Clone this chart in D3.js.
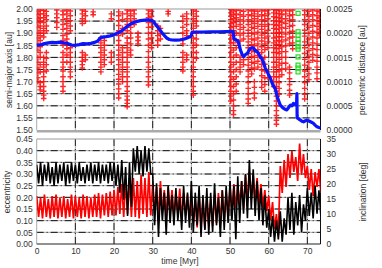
<!DOCTYPE html>
<html>
<head>
<meta charset="utf-8">
<script src="https://cdn.jsdelivr.net/npm/d3@7"></script>
<style>
  body { margin: 0; background: #fff; }
  svg { display: block; }
  text { font-family: "Liberation Sans", Arial, sans-serif; fill: #333; }
</style>
</head>
<body>
<svg width="382" height="268"></svg>
<script>
// ---- data ----
var timeTicks = [0, 10, 20, 30, 40, 50, 60, 70];
var semiTicks = [1.50, 1.55, 1.60, 1.65, 1.70, 1.75, 1.80, 1.85, 1.90, 1.95, 2.00];
var periTicks = [0, 0.0005, 0.0010, 0.0015, 0.0020, 0.0025];
var eccTicks = [0, 0.05, 0.10, 0.15, 0.20, 0.25, 0.30, 0.35, 0.40, 0.45];
var incTicks = [0, 5, 10, 15, 20, 25, 30, 35];

// semi-major axis [au] vs time [Myr]
var semiT = [0, 1, 2, 3, 4, 5, 6, 7, 8, 9, 10, 11, 12, 13, 14, 15, 15.8, 16.4, 17, 18, 19, 20,
  20.8, 21.6, 22.4, 23.3, 24.2, 25, 26, 26.8, 28, 28.8, 29.5, 30.2, 30.8, 31.2, 31.8, 32.5,
  33.1, 33.7, 34.3, 35, 36, 37, 38, 38.9, 39.7, 40.0, 40.2, 41, 43, 45, 47, 49, 50.8, 51.0,
  51.5, 52.0, 52.4, 52.7, 53.2, 53.5, 54.0, 54.5, 55.2, 55.8, 56.2, 56.6, 57.0, 57.4, 57.8,
  58.2, 58.6, 59.1, 59.5, 60.0, 60.5, 60.9, 61.3, 61.7, 62.2, 62.6, 63.0, 63.4, 63.8, 64.2,
  64.7, 65.1, 65.6, 66.0, 66.4, 66.8, 67.2, 67.3, 67.35, 67.4, 67.8, 68.2, 68.6, 69.0, 69.5,
  70.0, 70.4, 70.8, 71.2, 71.6, 72.0, 72.5, 73.0, 73.4];
var semiA = [1.851, 1.852, 1.857, 1.860, 1.862, 1.861, 1.863, 1.860, 1.858, 1.851, 1.850, 1.853,
  1.857, 1.856, 1.858, 1.862, 1.868, 1.880, 1.884, 1.886, 1.889, 1.893, 1.900, 1.906, 1.915,
  1.927, 1.937, 1.943, 1.949, 1.952, 1.954, 1.955, 1.953, 1.948, 1.935, 1.927, 1.915, 1.900,
  1.889, 1.879, 1.874, 1.872, 1.871, 1.872, 1.875, 1.880, 1.886, 1.890, 1.904, 1.905, 1.905,
  1.906, 1.906, 1.907, 1.908, 1.878, 1.872, 1.870, 1.850, 1.830, 1.810, 1.803, 1.812, 1.817,
  1.838, 1.840, 1.836, 1.826, 1.824, 1.815, 1.803, 1.795, 1.782, 1.756, 1.745, 1.727, 1.712,
  1.693, 1.680, 1.672, 1.638, 1.620, 1.603, 1.596, 1.590, 1.586, 1.583, 1.592, 1.603, 1.600,
  1.610, 1.607, 1.603, 1.650, 1.560, 1.550, 1.545, 1.541, 1.536, 1.534, 1.538, 1.541, 1.537,
  1.534, 1.531, 1.527, 1.520, 1.513, 1.510, 1.508];

// pericentric distance [au]: columns of crosses, [time, [distances]]
var periCols = [
  [0.3, [0.00245, 0.00238, 0.00230, 0.00222, 0.00212, 0.00200, 0.00190, 0.00178, 0.00165, 0.00150, 0.00140, 0.00128, 0.00118, 0.00108, 0.00100]],
  [0.9, [0.00248, 0.00240, 0.00232, 0.00225, 0.00215, 0.00205, 0.00195, 0.00185, 0.00172, 0.00160, 0.00150, 0.00135, 0.00120, 0.00098, 0.00090, 0.00083]],
  [1.8, [0.00247, 0.00240, 0.00232, 0.00222, 0.00210, 0.00200, 0.00192, 0.00150, 0.00140, 0.00130, 0.00120, 0.00110, 0.00100, 0.00090, 0.00080, 0.00072, 0.00065]],
  [2.5, [0.00245, 0.00236, 0.00228, 0.00215, 0.00205, 0.00160, 0.00148, 0.00135, 0.00122]],
  [5.2, [0.00248, 0.00240, 0.00232, 0.00222, 0.00212]],
  [6.8, [0.00246, 0.00238, 0.00228, 0.00218, 0.00208, 0.00195, 0.00185, 0.00175, 0.00160, 0.00150, 0.00140, 0.00130, 0.00122, 0.00110, 0.00100, 0.00090, 0.00080]],
  [7.8, [0.00248, 0.00240, 0.00230, 0.00220, 0.00210, 0.00198, 0.00188, 0.00178, 0.00168, 0.00155, 0.00140]],
  [8.7, [0.00246, 0.00236, 0.00226, 0.00215, 0.00205, 0.00170, 0.00160, 0.00150, 0.00140, 0.00130, 0.00120, 0.00110]],
  [11.8, [0.00248, 0.00240, 0.00230, 0.00220, 0.00160, 0.00150, 0.00142, 0.00135, 0.00128]],
  [12.6, [0.00245, 0.00236, 0.00225, 0.00155, 0.00145]],
  [14.6, [0.00244, 0.00238]],
  [16.6, [0.00190, 0.00180, 0.00170, 0.00160, 0.00150, 0.00140, 0.00130, 0.00120]],
  [17.5, [0.00185, 0.00175, 0.00165, 0.00155, 0.00145, 0.00135]],
  [19.3, [0.00240, 0.00230, 0.00160, 0.00150, 0.00140]],
  [21.2, [0.00244, 0.00236, 0.00226, 0.00216, 0.00205, 0.00195, 0.00185, 0.00175, 0.00165, 0.00155, 0.00145, 0.00135, 0.00125, 0.00115, 0.00105, 0.00095, 0.00085, 0.00075, 0.00066]],
  [22.2, [0.00240, 0.00228, 0.00210, 0.00198, 0.00170, 0.00160, 0.00150, 0.00140, 0.00130, 0.00120, 0.00110, 0.00100]],
  [23.4, [0.00248, 0.00240, 0.00230, 0.00218, 0.00205, 0.00190, 0.00180, 0.00170, 0.00160, 0.00150, 0.00140, 0.00130, 0.00120, 0.00110, 0.00100, 0.00090, 0.00080, 0.00070, 0.00062, 0.00055, 0.00048]],
  [24.3, [0.00246, 0.00236, 0.00225, 0.00212, 0.00200, 0.00190, 0.00178, 0.00165, 0.00155]],
  [25.2, [0.00248, 0.00240, 0.00230, 0.00218]],
  [26.2, [0.00200, 0.00192, 0.00185, 0.00178]],
  [28.9, [0.00248, 0.00240, 0.00232, 0.00222, 0.00212, 0.00200, 0.00188, 0.00175, 0.00162, 0.00150, 0.00140, 0.00130, 0.00120, 0.00110, 0.00100, 0.00093]],
  [29.7, [0.00245, 0.00235, 0.00225, 0.00213, 0.00200, 0.00190, 0.00180, 0.00170]],
  [31.3, [0.00215, 0.00205, 0.00195, 0.00185, 0.00175]],
  [32.0, [0.00210, 0.00198, 0.00188]],
  [34.0, [0.00245, 0.00240]],
  [37.8, [0.00235, 0.00225, 0.00212, 0.00200, 0.00188, 0.00178, 0.00160, 0.00150, 0.00140, 0.00130, 0.00122]],
  [38.8, [0.00240, 0.00230, 0.00218, 0.00205, 0.00195, 0.00155, 0.00145]],
  [40.5, [0.00248, 0.00240, 0.00230, 0.00220, 0.00210, 0.00190, 0.00180, 0.00170, 0.00160, 0.00150, 0.00140, 0.00130, 0.00120, 0.00110, 0.00100, 0.00090, 0.00080, 0.00072]],
  [41.3, [0.00245, 0.00235, 0.00225, 0.00215, 0.00200, 0.00188, 0.00175, 0.00160, 0.00148]],
  [50.2, [0.00249, 0.00242, 0.00235, 0.00228, 0.00220, 0.00212, 0.00204, 0.00196, 0.00188, 0.00180, 0.00170, 0.00160, 0.00150, 0.00140, 0.00130, 0.00120, 0.00110, 0.00100, 0.00090, 0.00080, 0.00070, 0.00060]],
  [50.9, [0.00246, 0.00238, 0.00230, 0.00222, 0.00214, 0.00205, 0.00195, 0.00180, 0.00165, 0.00150, 0.00135, 0.00120, 0.00105, 0.00090, 0.00075, 0.00062, 0.00050, 0.00040, 0.00032]],
  [51.6, [0.00248, 0.00240, 0.00232, 0.00224, 0.00214, 0.00200, 0.00185, 0.00170, 0.00155, 0.00140, 0.00125, 0.00110, 0.00095, 0.00080]],
  [52.6, [0.00247, 0.00238, 0.00228, 0.00218, 0.00208, 0.00196, 0.00184, 0.00150, 0.00140, 0.00130, 0.00120]],
  [53.5, [0.00245, 0.00235, 0.00225, 0.00212, 0.00200, 0.00188, 0.00145, 0.00135]],
  [54.7, [0.00248, 0.00238, 0.00228, 0.00218, 0.00206, 0.00194, 0.00182, 0.00170, 0.00158, 0.00146, 0.00134, 0.00122, 0.00110, 0.00098, 0.00086, 0.00075, 0.00064, 0.00055]],
  [55.6, [0.00246, 0.00236, 0.00224, 0.00212, 0.00200, 0.00188, 0.00176, 0.00164, 0.00152, 0.00140, 0.00128, 0.00116]],
  [56.3, [0.00248, 0.00240, 0.00230, 0.00220, 0.00210, 0.00198, 0.00186, 0.00174, 0.00162, 0.00150, 0.00138, 0.00126, 0.00100, 0.00088, 0.00076, 0.00066]],
  [57.2, [0.00245, 0.00235, 0.00225, 0.00214, 0.00202, 0.00190, 0.00178, 0.00166, 0.00154, 0.00142, 0.00130]],
  [58.2, [0.00248, 0.00238, 0.00228, 0.00218, 0.00208, 0.00196, 0.00184, 0.00172, 0.00160, 0.00148, 0.00136, 0.00124, 0.00112, 0.00100, 0.00088]],
  [59.0, [0.00246, 0.00236, 0.00226, 0.00214, 0.00202, 0.00190, 0.00178, 0.00166, 0.00150, 0.00136, 0.00122, 0.00108, 0.00094, 0.00080]],
  [59.8, [0.00248, 0.00240, 0.00230, 0.00218, 0.00206, 0.00194, 0.00182, 0.00170, 0.00120, 0.00108]],
  [61.3, [0.00249, 0.00242, 0.00234, 0.00226, 0.00218, 0.00210, 0.00200, 0.00190, 0.00180, 0.00170, 0.00160, 0.00150, 0.00140, 0.00130, 0.00120, 0.00110, 0.00100, 0.00090]],
  [62.0, [0.00247, 0.00240, 0.00232, 0.00224, 0.00216, 0.00208, 0.00200, 0.00192, 0.00184, 0.00176, 0.00168, 0.00160, 0.00150, 0.00140, 0.00130, 0.00120, 0.00110, 0.00100, 0.00090, 0.00080, 0.00070, 0.00060, 0.00050, 0.00040, 0.00030, 0.00020, 0.00012]],
  [62.7, [0.00249, 0.00241, 0.00233, 0.00225, 0.00217, 0.00209, 0.00201, 0.00193, 0.00185, 0.00177, 0.00169, 0.00158, 0.00146, 0.00134, 0.00122, 0.00110, 0.00098, 0.00086, 0.00074]],
  [63.4, [0.00246, 0.00238, 0.00230, 0.00222, 0.00212, 0.00202, 0.00192, 0.00182, 0.00172, 0.00162, 0.00150, 0.00138, 0.00126, 0.00114]],
  [64.4, [0.00248, 0.00240, 0.00230, 0.00220, 0.00210, 0.00198, 0.00186, 0.00174, 0.00162, 0.00150, 0.00138, 0.00126]],
  [65.4, [0.00246, 0.00236, 0.00226, 0.00214, 0.00202, 0.00190, 0.00178, 0.00130, 0.00118, 0.00106, 0.00094, 0.00082, 0.00072]],
  [66.2, [0.00248, 0.00238, 0.00228, 0.00216, 0.00204, 0.00192, 0.00180, 0.00168]],
  [69.3, [0.00247, 0.00238, 0.00228, 0.00218, 0.00206, 0.00194, 0.00182, 0.00170, 0.00158, 0.00146, 0.00134, 0.00122, 0.00110, 0.00098, 0.00086, 0.00074, 0.00064]],
  [70.4, [0.00245, 0.00235, 0.00224, 0.00212, 0.00200, 0.00188, 0.00176, 0.00164, 0.00152, 0.00140, 0.00128, 0.00116, 0.00104]],
  [71.4, [0.00248, 0.00238, 0.00228, 0.00216, 0.00204, 0.00192, 0.00180, 0.00168, 0.00156, 0.00144]],
  [72.5, [0.00246, 0.00236, 0.00226, 0.00214, 0.00202, 0.00190, 0.00178, 0.00166, 0.00154, 0.00142, 0.00130, 0.00118, 0.00106]],
  [73.1, [0.00244, 0.00232, 0.00220, 0.00208, 0.00196]]
];

// green squares near 67.6 Myr
var greenT = 67.6;
var greenQ = [0.00241, 0.00203, 0.00196, 0.00187, 0.00180, 0.00172, 0.00167, 0.00151, 0.00134, 0.00128, 0.00120];

// bottom panel, sampled every 0.5 Myr from t = 0
var sampleStep = 0.5;
var eccVals = [
  0.34, 0.26, 0.35, 0.25, 0.34, 0.27, 0.35, 0.26, 0.33, 0.25,
  0.35, 0.26, 0.34, 0.27, 0.35, 0.25, 0.34, 0.26, 0.35, 0.27,
  0.34, 0.26, 0.35, 0.27, 0.33, 0.26, 0.34, 0.27, 0.35, 0.26,
  0.34, 0.27, 0.35, 0.26, 0.34, 0.27, 0.34, 0.26, 0.35, 0.27,
  0.35, 0.25, 0.34, 0.22, 0.36, 0.19, 0.33, 0.12, 0.35, 0.16,
  0.41, 0.31, 0.42, 0.30, 0.40, 0.29, 0.42, 0.31, 0.41, 0.30,
  0.30, 0.08, 0.26, 0.03, 0.24, 0.10, 0.22, 0.04, 0.25, 0.09,
  0.21, 0.08, 0.24, 0.10, 0.20, 0.06, 0.25, 0.09, 0.22, 0.07,
  0.27, 0.05, 0.22, 0.08, 0.25, 0.03, 0.21, 0.06, 0.24, 0.04,
  0.22, 0.05, 0.26, 0.08, 0.20, 0.03, 0.23, 0.06, 0.25, 0.09,
  0.27, 0.10, 0.25, 0.02, 0.29, 0.09, 0.27, 0.13, 0.30, 0.11,
  0.36, 0.15, 0.32, 0.12, 0.27, 0.10, 0.24, 0.08, 0.21, 0.07,
  0.15, 0.03, 0.12, 0.01, 0.10, 0.02, 0.14, 0.01, 0.11, 0.04,
  0.20, 0.06, 0.22, 0.04, 0.18, 0.08, 0.21, 0.05, 0.17, 0.10,
  0.24, 0.12, 0.22, 0.11, 0.25, 0.13, 0.23, 0.12];
var incVals = [
  16, 9, 15.5, 8.5, 16.5, 9, 15, 8.5, 16, 9,
  16.5, 8.5, 15.5, 9, 16, 8.5, 15, 9, 16.5, 8.5,
  16, 9, 15.5, 8.5, 16.5, 9, 16, 8.5, 15.5, 9,
  16.5, 9, 17, 8.5, 16.5, 9.5, 17, 9, 17.5, 9.5,
  18, 9.5, 19, 10, 20, 9, 21, 10, 22, 9,
  22, 9, 21, 8.5, 23, 10, 22, 9, 24, 9.5,
  20, 10, 19, 9, 21, 10.5, 18, 9, 19, 11,
  18, 9, 17, 10, 18.5, 8.5, 17, 9.5, 16.5, 8,
  16, 7, 15, 5.5, 16.5, 6, 14.5, 5, 15.5, 6.5,
  15, 6, 16.5, 7, 17, 6.5, 18, 8, 17.5, 9,
  19, 11, 20, 12, 19.5, 13, 21, 12, 23, 14,
  24, 15, 23, 14, 22, 13, 20, 12, 18, 11,
  16, 8, 14, 5, 10, 3, 26, 17, 28, 19,
  30, 22, 31, 24, 29, 21, 33.5, 23, 30, 22,
  26, 18, 25, 16, 24, 19, 25, 17];

// ---- layout ----
var svg = d3.select("svg");
var x = d3.scaleLinear().domain([0, 73.4]).range([36.7, 320.5]);
var yA = d3.scaleLinear().domain([1.5, 2.0]).range([130, 9]);
var yQ = d3.scaleLinear().domain([0, 0.0025]).range([130, 9]);
var yE = d3.scaleLinear().domain([0, 0.45]).range([244, 139]);
var yI = d3.scaleLinear().domain([0, 35]).range([244, 139]);

svg.append("defs").html(
  '<clipPath id="clipTop"><rect x="36.7" y="9" width="283.8" height="121"/></clipPath>' +
  '<clipPath id="clipBot"><rect x="36.7" y="139" width="283.8" height="105"/></clipPath>');

function grid(yScale, ticks, y0, y1) {
  var g = svg.append("g");
  // horizontal lines
  g.selectAll("line.h").data(ticks).enter().append("line")
    .attr("x1", x.range()[0]).attr("x2", x.range()[1])
    .attr("y1", function(d) { return yScale(d); })
    .attr("y2", function(d) { return yScale(d); })
    .attr("stroke", "#aaa").attr("stroke-width", 1);
  g.selectAll("line.hd").data(ticks).enter().append("line")
    .attr("x1", x.range()[0]).attr("x2", x.range()[1])
    .attr("y1", function(d) { return yScale(d); })
    .attr("y2", function(d) { return yScale(d); })
    .attr("stroke", "#111").attr("stroke-width", 1)
    .attr("stroke-dasharray", "7,3,1,3");
  // vertical lines
  g.selectAll("line.v").data(timeTicks.slice(1)).enter().append("line")
    .attr("x1", function(d) { return x(d); }).attr("x2", function(d) { return x(d); })
    .attr("y1", y0).attr("y2", y1)
    .attr("stroke", "#aaa").attr("stroke-width", 1);
  g.selectAll("line.vd").data(timeTicks.slice(1)).enter().append("line")
    .attr("x1", function(d) { return x(d); }).attr("x2", function(d) { return x(d); })
    .attr("y1", y0).attr("y2", y1)
    .attr("stroke", "#222").attr("stroke-width", 1)
    .attr("stroke-dasharray", "7,3,1,3");
}

grid(yA, semiTicks.slice(1, -1), 9, 130);
grid(yE, eccTicks.slice(1, -1), 139, 244);

// frames
function frame(y0, y1) {
  svg.append("line").attr("x1", 36.7).attr("x2", 320.5).attr("y1", y0).attr("y2", y0)
    .attr("stroke", "#999").attr("stroke-width", 1);
  svg.append("line").attr("x1", 36.7).attr("x2", 36.7).attr("y1", y0).attr("y2", y1)
    .attr("stroke", "#aaa").attr("stroke-width", 1);
  svg.append("line").attr("x1", 320.5).attr("x2", 320.5).attr("y1", y0).attr("y2", y1)
    .attr("stroke", "#111").attr("stroke-width", 1);
}
frame(9, 130);
frame(139, 244);
svg.append("rect").attr("x", 36.7).attr("y", 130).attr("width", 283.8).attr("height", 2.5)
  .attr("fill", "#aaa");
svg.append("line").attr("x1", 36.7).attr("x2", 320.5).attr("y1", 244).attr("y2", 244)
  .attr("stroke", "#222").attr("stroke-width", 1);

// ---- top panel marks ----
var topG = svg.append("g").attr("clip-path", "url(#clipTop)");
var crossPts = [];
periCols.forEach(function(c) {
  c[1].forEach(function(q) { crossPts.push([c[0], q]); });
});
topG.selectAll("path.cross").data(crossPts).enter().append("path")
  .attr("d", function(d) {
    var cx = x(d[0]), cy = yQ(d[1]);
    return "M" + (cx - 2.8) + "," + cy + "H" + (cx + 2.8) + "M" + cx + "," + (cy - 2.8) + "V" + (cy + 2.8);
  })
  .attr("stroke", "#ff1010").attr("stroke-width", 1.4).attr("stroke-opacity", 0.9);

topG.selectAll("rect.sq").data(greenQ).enter().append("rect")
  .attr("x", x(greenT) - 2).attr("y", function(d) { return yQ(d) - 2; })
  .attr("width", 4).attr("height", 4)
  .attr("fill", "none").attr("stroke", "#22dd22").attr("stroke-width", 1.2);

var semiLine = d3.line()
  .x(function(d, i) { return x(semiT[i]); })
  .y(function(d) { return yA(d); });
topG.append("path").datum(semiA).attr("d", semiLine)
  .attr("fill", "none").attr("stroke", "#0a14ff").attr("stroke-width", 3.2)
  .attr("stroke-linejoin", "round");

// ---- bottom panel marks ----
var botG = svg.append("g").attr("clip-path", "url(#clipBot)");
botG.append("path").datum(incVals)
  .attr("d", d3.line().x(function(d, i) { return x(i * sampleStep); }).y(function(d) { return yI(d); }))
  .attr("fill", "none").attr("stroke", "#ff0000").attr("stroke-width", 1.7);
botG.append("path").datum(eccVals)
  .attr("d", d3.line().x(function(d, i) { return x(i * sampleStep); }).y(function(d) { return yE(d); }))
  .attr("fill", "none").attr("stroke", "#000").attr("stroke-width", 1.6);

// ---- axes ----
function axisText(axis, tx, ty) {
  var g = svg.append("g").attr("transform", "translate(" + tx + "," + ty + ")").call(axis);
  g.select(".domain").remove();
  g.selectAll("line").remove();
  g.selectAll("text").style("font-family", "'Liberation Sans', Arial, sans-serif")
    .style("font-size", "8.5px").attr("fill", "#333");
  return g;
}
axisText(d3.axisLeft(yA).tickValues(semiTicks).tickFormat(d3.format(".2f")).tickSize(0).tickPadding(4), 36.7, 0);
axisText(d3.axisRight(yQ).tickValues(periTicks).tickFormat(d3.format(".4f")).tickSize(0).tickPadding(6), 320.5, 0);
axisText(d3.axisLeft(yE).tickValues(eccTicks).tickFormat(d3.format(".2f")).tickSize(0).tickPadding(4), 36.7, 0);
axisText(d3.axisRight(yI).tickValues(incTicks).tickFormat(d3.format("d")).tickSize(0).tickPadding(6), 320.5, 0);
axisText(d3.axisBottom(x).tickValues(timeTicks).tickFormat(d3.format("d")).tickSize(0).tickPadding(4), 0, 244);

// titles
function title(txt, tx, ty, rot) {
  svg.append("text").attr("transform", "translate(" + tx + "," + ty + ")" + (rot ? " rotate(-90)" : ""))
    .attr("text-anchor", "middle").attr("dominant-baseline", "middle")
    .style("font-size", "8.5px").text(txt);
}
title("semi-major axis [au]", 10, 70, true);
title("pericentric distance [au]", 363, 70, true);
title("eccentricity", 8, 192, true);
title("inclination [deg]", 364, 192, true);
title("time [Myr]", 180, 262, false);
</script>
</body>
</html>
